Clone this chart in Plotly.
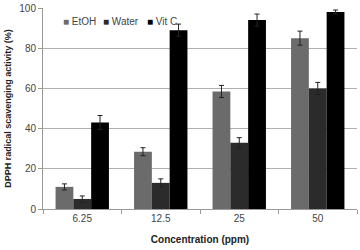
import plotly.graph_objects as go

categories = ["6.25", "12.5", "25", "50"]
etoh = [11, 28.5, 58.5, 85]
etoh_err = [1.5, 2, 3, 3.5]
water = [5, 13, 33, 60]
water_err = [1.5, 2, 2.5, 3]
vitc = [43, 89, 94, 98]
vitc_err = [3.5, 3, 3, 1]

series = [
    ("EtOH", etoh, etoh_err, "#6b6b6b"),
    ("Water", water, water_err, "#2b2b2b"),
    ("Vit C", vitc, vitc_err, "#000000"),
]

fig = go.Figure()
for name, vals, err, col in series:
    fig.add_trace(go.Bar(
        x=categories, y=vals, name=name, marker_color=col,
        marker_line_width=0, showlegend=False,
        error_y=dict(type="data", array=err, color="#222222", thickness=1, width=2.5),
    ))

# manual legend (compact square markers)
legend_x = [0.058, 0.186, 0.326]
for (name, _, _, col), lx in zip(series, legend_x):
    fig.add_annotation(
        xref="paper", yref="paper", x=lx, y=0.935, xanchor="left", yanchor="middle",
        text=f"<span style='color:{col}'>■</span> {name}", showarrow=False,
        font=dict(size=10, color="#444444"),
    )

fig.update_layout(
    width=360, height=250,
    margin=dict(l=43, r=3, t=4, b=41),
    paper_bgcolor="white", plot_bgcolor="white",
    barmode="group", bargap=0.32, bargroupgap=0,
    font=dict(family="Liberation Sans, Arial, sans-serif", size=10, color="#444444"),
    showlegend=False,
    xaxis=dict(
        showline=True, linecolor="#999999", linewidth=1,
        ticks="outside", ticklen=4, tickcolor="#999999", tickson="boundaries",
        showgrid=False,
        title=dict(text="<b>Concentration (ppm)</b>", font=dict(size=10, color="#222222"), standoff=12),
    ),
    yaxis=dict(
        range=[0, 100.01], tickvals=[0, 20, 40, 60, 80, 100], showline=True, linecolor="#999999", linewidth=1,
        ticks="outside", ticklen=4, tickcolor="#999999", ticklabeloverflow="allow",
        showgrid=True, gridcolor="#b0b0b0", gridwidth=1, zeroline=False,
        title=dict(text="<b>DPPH radical scavenging activity (%)</b>", font=dict(size=9, color="#222222"), standoff=6),
    ),
)

fig.write_html("out.html")
